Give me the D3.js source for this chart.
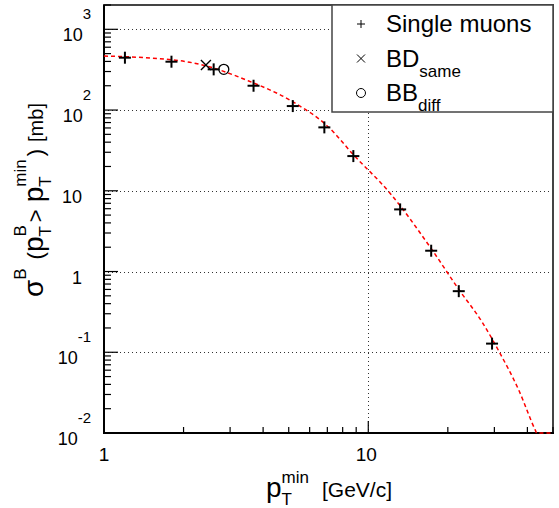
<!DOCTYPE html>
<html>
<head>
<meta charset="utf-8">
<script src="https://cdn.jsdelivr.net/npm/d3@7"></script>
<style>
  html, body { margin: 0; padding: 0; background: #fff; }
  text { font-family: "Liberation Sans", Arial, Helvetica, sans-serif; fill: #000; }
</style>
</head>
<body>
<svg id="chart" width="559" height="508"></svg>
<script>
// single muon points
var muonPt = [1.2, 1.8, 2.6, 3.68, 5.18, 6.82, 8.78, 13.2, 17.3, 22.0, 29.4];
var muonSigma = [445, 397, 319, 200, 112, 61, 26.9, 5.88, 1.81, 0.571, 0.128];
// BD same side / BB different side
var bdSamePt = [2.43];
var bdSameSigma = [361];
var bbDiffPt = [2.84];
var bbDiffSigma = [319];
// fit curve
var fitPt = [1, 1.94, 2.44, 3.46, 5.17, 7.13, 8.78, 12.0, 17.25, 22.0, 27.0, 31.2, 37.1, 42.9, 43.4, 50];
var fitSigma = [467, 408, 351, 235, 127, 60, 28, 9.6, 1.95, 0.6, 0.235, 0.103, 0.034, 0.0108, 0.0099, 0.0001];
// axis ticks
var yDecades = [-2, -1, 0, 1, 2, 3];
var xMajor = [1, 10];
var legendLabels = [
  { key: "muon", main: "Single muons", sub: "" },
  { key: "bd", main: "BD", sub: "same" },
  { key: "bb", main: "BB", sub: "diff" }
];

var svg = d3.select("#chart");
var m = { l: 104, r: 553, t: 5, b: 433 };

var x = d3.scaleLog().domain([1, 50]).range([m.l, m.r]);
var y = d3.scaleLog().domain([0.01, 2000]).range([m.b, m.t]).clamp(true);

// grid
var grid = svg.append("g").attr("stroke", "#333").attr("stroke-width", 1)
  .attr("stroke-dasharray", "1,3");
yDecades.filter(function(d) { return d > -2; }).forEach(function(d) {
  var yy = Math.round(y(Math.pow(10, d))) + 0.5;
  grid.append("line").attr("x1", m.l).attr("x2", m.r).attr("y1", yy).attr("y2", yy);
});
grid.append("line").attr("x1", Math.round(x(10)) + 0.5).attr("x2", Math.round(x(10)) + 0.5)
  .attr("y1", m.t).attr("y2", m.b);

// frame
svg.append("rect").attr("x", m.l).attr("y", m.t).attr("width", m.r - m.l).attr("height", m.b - m.t)
  .attr("fill", "none").attr("stroke", "#444").attr("stroke-width", 2);

// y ticks (inside, on left axis)
var ticks = svg.append("g").attr("stroke", "#000").attr("stroke-width", 1.2);
for (var e = -2; e <= 3; e++) {
  for (var k = 1; k <= 9; k++) {
    var v = k * Math.pow(10, e);
    if (v > 2000) break;
    var yy = y(v);
    ticks.append("line").attr("x1", m.l).attr("x2", m.l + (k === 1 ? 14 : 7))
      .attr("y1", yy).attr("y2", yy);
  }
}
// x ticks (inside, on bottom axis)
[1, 2, 3, 4, 5, 6, 7, 8, 9, 10, 20, 30, 40, 50].forEach(function(v) {
  var xx = x(v);
  var major = (v === 1 || v === 10);
  ticks.append("line").attr("x1", xx).attr("x2", xx).attr("y1", m.b).attr("y2", m.b - (major ? 12 : 6));
});

// axes lines
svg.append("line").attr("x1", m.l).attr("x2", m.l).attr("y1", m.t).attr("y2", m.b)
  .attr("stroke", "#000").attr("stroke-width", 2);
svg.append("line").attr("x1", m.l - 1).attr("x2", m.r + 1).attr("y1", m.b).attr("y2", m.b)
  .attr("stroke", "#000").attr("stroke-width", 2);

// y tick labels
yDecades.forEach(function(d) {
  var yy = y(Math.pow(10, d)) + 12;
  if (d === 0 || d === 1) {
    svg.append("text").attr("x", 82).attr("y", yy).attr("text-anchor", "end")
      .attr("font-size", 18).text(d === 0 ? "1" : "10");
  } else {
    var t = svg.append("text").attr("x", 91).attr("y", yy).attr("text-anchor", "end");
    t.append("tspan").attr("font-size", 18).text("10");
    t.append("tspan").attr("font-size", 15).attr("dy", -22).text(d);
  }
});

// x tick labels
xMajor.forEach(function(v) {
  svg.append("text").attr("x", x(v) - (v === 10 ? 2 : 0)).attr("y", 461)
    .attr("text-anchor", "middle").attr("font-size", 19).text(v);
});

// sequential rich text: parts placed one after the other, "stack" puts a part over the previous one
function richText(g, parts) {
  var cursor = 0, prevStart = 0, prevEnd = 0;
  parts.forEach(function(p) {
    var start = p.stack ? prevStart : cursor + (p.gap || 0);
    var t = g.append("text").attr("x", start).attr("y", p.shift || 0)
      .attr("font-size", p.size).text(p.t);
    var w = t.node().getComputedTextLength();
    var end = start + w;
    if (p.stack) end = Math.max(end, prevEnd);
    prevStart = start;
    prevEnd = end;
    cursor = end;
  });
}

// x axis title
var xt = svg.append("g").attr("transform", "translate(266,497)");
richText(xt, [
  { t: "p", size: 28 },
  { t: "T", size: 17, shift: 8 },
  { t: "min", size: 17, shift: -14, stack: true },
  { t: "[GeV/c]", size: 21, gap: 13 }
]);

// y axis title
var yt = svg.append("g").attr("transform", "translate(43,297) rotate(-90)");
richText(yt, [
  { t: "σ", size: 28 },
  { t: "B", size: 17, shift: -17 },
  { t: "(", size: 22, gap: 9 },
  { t: "p", size: 28 },
  { t: "T", size: 17, shift: 8 },
  { t: "B", size: 17, shift: -17, stack: true },
  { t: ">", size: 22, gap: 3 },
  { t: "p", size: 28, gap: 7 },
  { t: "T", size: 17, shift: 8 },
  { t: "min", size: 17, shift: -17, stack: true },
  { t: ")", size: 22, gap: 3 },
  { t: "[mb]", size: 20, gap: 7 }
]);

// fit curve, drawn over the axes so the clipped tail shows along the bottom
svg.append("clipPath").attr("id", "frameClip").append("rect")
  .attr("x", m.l).attr("y", m.t).attr("width", m.r - m.l).attr("height", m.b - m.t + 2);
var fitData = fitPt.map(function(p, i) { return [p, fitSigma[i]]; });
var line = d3.line()
  .x(function(d) { return x(d[0]); })
  .y(function(d) { return y(d[1]); })
  .curve(d3.curveMonotoneX);
svg.append("path").datum(fitData).attr("d", line).attr("clip-path", "url(#frameClip)")
  .attr("fill", "none").attr("stroke", "#ff0000").attr("stroke-width", 1.5)
  .attr("stroke-dasharray", "4,3");

// markers
function plus(g, cx, cy, s, w) {
  g.append("line").attr("x1", cx - s).attr("x2", cx + s).attr("y1", cy).attr("y2", cy)
    .attr("stroke", "#000").attr("stroke-width", w);
  g.append("line").attr("x1", cx).attr("x2", cx).attr("y1", cy - s).attr("y2", cy + s)
    .attr("stroke", "#000").attr("stroke-width", w);
}
function cross(g, cx, cy, s, w) {
  g.append("line").attr("x1", cx - s).attr("x2", cx + s).attr("y1", cy - s).attr("y2", cy + s)
    .attr("stroke", "#000").attr("stroke-width", w);
  g.append("line").attr("x1", cx - s).attr("x2", cx + s).attr("y1", cy + s).attr("y2", cy - s)
    .attr("stroke", "#000").attr("stroke-width", w);
}
var marks = svg.append("g");
muonPt.forEach(function(p, i) { plus(marks, x(p), y(muonSigma[i]), 6, 2); });
bdSamePt.forEach(function(p, i) { cross(marks, x(p), y(bdSameSigma[i]), 5, 1.3); });
bbDiffPt.forEach(function(p, i) {
  marks.append("circle").attr("cx", x(p)).attr("cy", y(bbDiffSigma[i])).attr("r", 5)
    .attr("fill", "none").attr("stroke", "#000").attr("stroke-width", 1.3);
});

// legend
var lg = svg.append("g");
lg.append("rect").attr("x", 332).attr("y", m.t).attr("width", m.r - 332).attr("height", 107)
  .attr("fill", "#fff").attr("stroke", "#444").attr("stroke-width", 1.5);
legendLabels.forEach(function(d, i) {
  var cy = 24 + i * 34.5;
  if (d.key === "muon") plus(lg, 361, cy, 4, 1);
  else if (d.key === "bd") cross(lg, 361, cy, 4, 1);
  else lg.append("circle").attr("cx", 361).attr("cy", cy).attr("r", 4.5)
    .attr("fill", "none").attr("stroke", "#000").attr("stroke-width", 1);
  var t = lg.append("text").attr("x", 386).attr("y", cy + 8).attr("font-size", 24);
  t.append("tspan").text(d.main);
  if (d.sub) t.append("tspan").attr("font-size", 17).attr("dy", 10).text(d.sub);
});
</script>
</body>
</html>
